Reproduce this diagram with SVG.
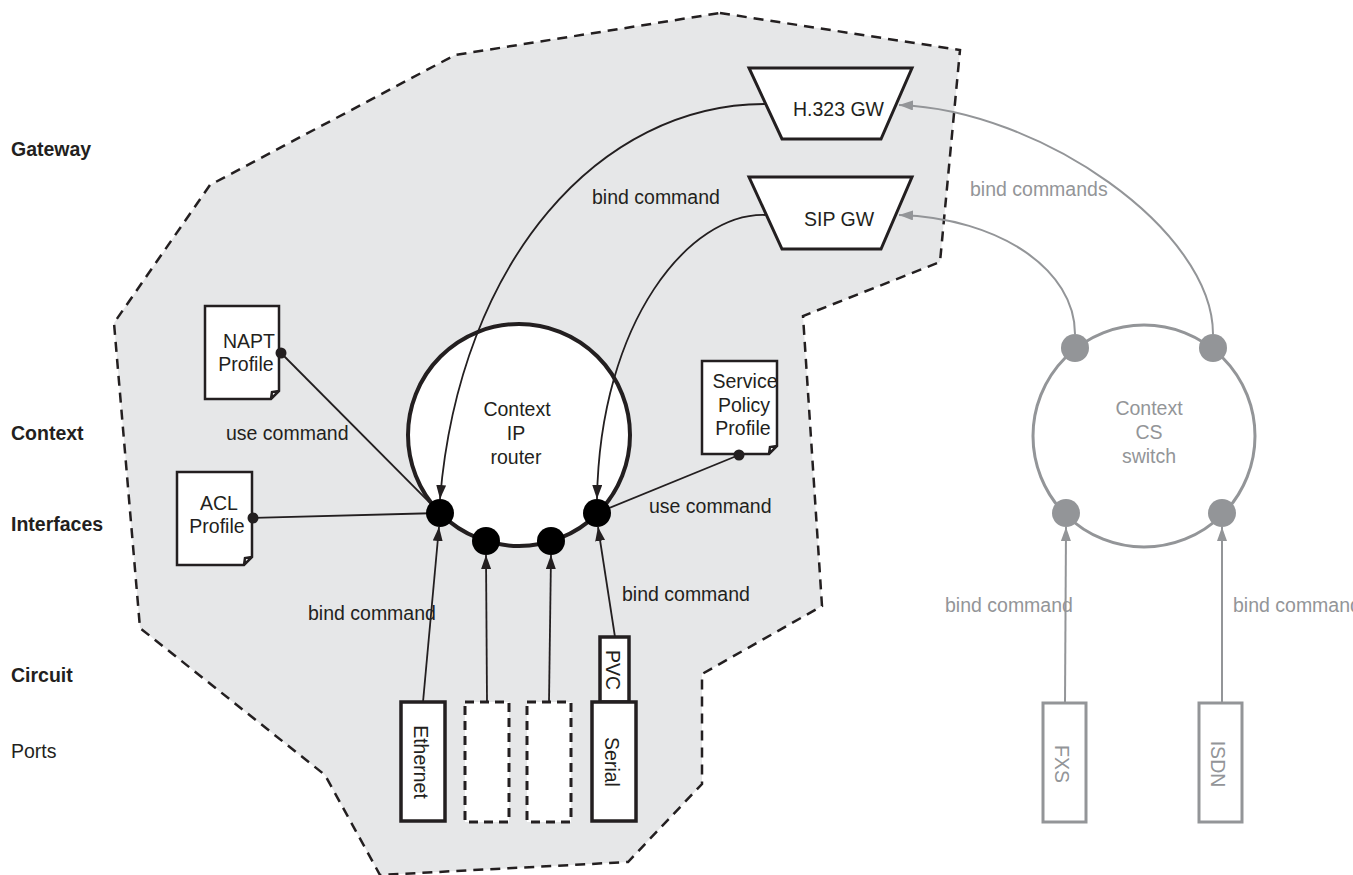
<svg xmlns="http://www.w3.org/2000/svg" width="1353" height="875" viewBox="0 0 1353 875">
<style>
.t{font-family:"Liberation Sans",Arial,Helvetica,sans-serif;font-size:19.5px;fill:#231f20}
.b{font-weight:bold}
.g{fill:#939598}
.m{text-anchor:middle}
.c{stroke:#231f20;stroke-width:1.8;fill:none}
.cg{stroke:#939598;stroke-width:2;fill:none}
.prof{fill:#fff;stroke:#231f20;stroke-width:2.5}
.gw{fill:#fff;stroke:#231f20;stroke-width:3}
.port{fill:#fff;stroke:#231f20;stroke-width:3.5}
.vport{fill:#fff;stroke:#231f20;stroke-width:3;stroke-dasharray:9 6}
.gport{fill:#fff;stroke:#939598;stroke-width:3}
</style>
<defs>
<marker id="ab" markerUnits="userSpaceOnUse" markerWidth="15" markerHeight="11" refX="14" refY="5" orient="auto"><path d="M0,0 L14,5 L0,10 z" fill="#231f20"/></marker>
<marker id="ag" markerUnits="userSpaceOnUse" markerWidth="15" markerHeight="11" refX="14" refY="5" orient="auto"><path d="M0,0 L14,5 L0,10 z" fill="#939598"/></marker>
</defs>
<rect width="1353" height="875" fill="#fff"/>
<g id="boundary">
<polygon points="720,13 960,50 940,262 803,316 822,606 702,674 702,784 628,862 380,875 325,775 140,628 114,323 210,185 455,55" fill="#e6e7e8" stroke="#231f20" stroke-width="2.5" stroke-dasharray="10 7"/>
</g>
<g id="layer-labels">
<text class="t b" x="11" y="156">Gateway</text>
<text class="t b" x="11" y="440">Context</text>
<text class="t b" x="11" y="531">Interfaces</text>
<text class="t b" x="11" y="682">Circuit</text>
<text class="t" x="11" y="758">Ports</text>
</g>
<g id="context-ip">
<circle cx="519" cy="435" r="111" fill="#fff" stroke="#231f20" stroke-width="4"/>
<text class="t m" x="517" y="416">Context</text>
<text class="t m" x="516" y="440">IP</text>
<text class="t m" x="516" y="464">router</text>
</g>
<g id="context-cs">
<circle cx="1144" cy="436" r="111" fill="#fff" stroke="#939598" stroke-width="3"/>
<text class="t g m" x="1149" y="415">Context</text>
<text class="t g m" x="1149" y="439">CS</text>
<text class="t g m" x="1149" y="463">switch</text>
</g>
<g id="h323-gw">
<polygon class="gw" points="749,68 912,68 881,139 782,139"/>
<text class="t" x="793" y="116">H.323 GW</text>
</g>
<g id="sip-gw">
<polygon class="gw" points="749,177 912,177 881,249 782,249"/>
<text class="t" x="804" y="226">SIP GW</text>
</g>
<g id="napt-profile">
<path class="prof" d="M205,306 H279 V391 L271,399 H205 Z M271,399 L272,392 L279,391"/>
<text class="t m" x="249" y="348">NAPT</text>
<text class="t m" x="246" y="371">Profile</text>
</g>
<g id="acl-profile">
<path class="prof" d="M177,472 H252 V557 L244,565 H177 Z M244,565 L245,558 L252,557"/>
<text class="t m" x="219" y="510">ACL</text>
<text class="t m" x="217" y="533">Profile</text>
</g>
<g id="service-policy-profile">
<path class="prof" d="M702,361 H777 V446 L769,454 H702 Z M769,454 L770,447 L777,446"/>
<text class="t m" x="745" y="388">Service</text>
<text class="t m" x="744" y="412">Policy</text>
<text class="t m" x="743" y="435">Profile</text>
</g>
<g id="ethernet-port">
<rect class="port" x="401" y="702" width="44" height="119"/>
<text class="t m" transform="translate(421,762) rotate(90)" dominant-baseline="central">Ethernet</text>
</g>
<g id="port-2"><rect class="vport" x="465" y="702" width="44" height="120"/></g>
<g id="port-3"><rect class="vport" x="527" y="702" width="44" height="120"/></g>
<g id="pvc-circuit">
<rect x="600" y="637" width="29" height="65" fill="#fff" stroke="#231f20" stroke-width="3.5"/>
<text class="t m" transform="translate(613,670) rotate(90)" dominant-baseline="central">PVC</text>
</g>
<g id="serial-port">
<rect class="port" x="592" y="702" width="44" height="119"/>
<text class="t m" transform="translate(612,762) rotate(90)" dominant-baseline="central">Serial</text>
</g>
<g id="fxs-port">
<rect class="gport" x="1043" y="703" width="43" height="119"/>
<text class="t g m" transform="translate(1062,764) rotate(90)" dominant-baseline="central">FXS</text>
</g>
<g id="isdn-port">
<rect class="gport" x="1199" y="703" width="43" height="119"/>
<text class="t g m" transform="translate(1218,764) rotate(90)" dominant-baseline="central">ISDN</text>
</g>
<g id="connectors">
<path class="c" d="M765,104 C600,104 460,260 440,499" marker-end="url(#ab)"/>
<path class="c" d="M765,215 C690,213 600,320 597,499" marker-end="url(#ab)"/>
<line class="c" x1="281" y1="353" x2="440" y2="513"/>
<line class="c" x1="253" y1="518" x2="440" y2="513"/>
<line class="c" x1="739" y1="455" x2="597" y2="513"/>
<line class="c" x1="423" y1="702" x2="439" y2="527" marker-end="url(#ab)"/>
<line class="c" x1="487" y1="702" x2="486" y2="555" marker-end="url(#ab)"/>
<line class="c" x1="549" y1="702" x2="551" y2="555" marker-end="url(#ab)"/>
<line class="c" x1="615" y1="637" x2="598" y2="527" marker-end="url(#ab)"/>
<path class="cg" d="M1075,334 C1075,270 1000,218 899,215" marker-end="url(#ag)"/>
<path class="cg" d="M1213,334 C1213,230 1040,110 899,105" marker-end="url(#ag)"/>
<line class="cg" x1="1065" y1="703" x2="1066" y2="527" stroke-width="2.7" marker-end="url(#ag)"/>
<line class="cg" x1="1222" y1="703" x2="1222" y2="527" stroke-width="2.7" marker-end="url(#ag)"/>
<circle cx="281" cy="353" r="5.5" fill="#231f20"/>
<circle cx="253" cy="518" r="5.5" fill="#231f20"/>
<circle cx="739" cy="455" r="5.5" fill="#231f20"/>
<text class="t" x="592" y="204">bind command</text>
<text class="t" x="226" y="440">use command</text>
<text class="t" x="308" y="620">bind command</text>
<text class="t" x="649" y="513">use command</text>
<text class="t" x="622" y="601">bind command</text>
<text class="t g" x="970" y="196">bind commands</text>
<text class="t g" x="945" y="612">bind command</text>
<text class="t g" x="1233" y="612">bind command</text>
</g>
<g id="interfaces">
<circle cx="440" cy="513" r="14" fill="#000"/>
<circle cx="486" cy="541" r="14" fill="#000"/>
<circle cx="551" cy="541" r="14" fill="#000"/>
<circle cx="597" cy="513" r="14" fill="#000"/>
<circle cx="1075" cy="348" r="14" fill="#939598"/>
<circle cx="1213" cy="348" r="14" fill="#939598"/>
<circle cx="1066" cy="513" r="14" fill="#939598"/>
<circle cx="1222" cy="513" r="14" fill="#939598"/>
</g>
</svg>
